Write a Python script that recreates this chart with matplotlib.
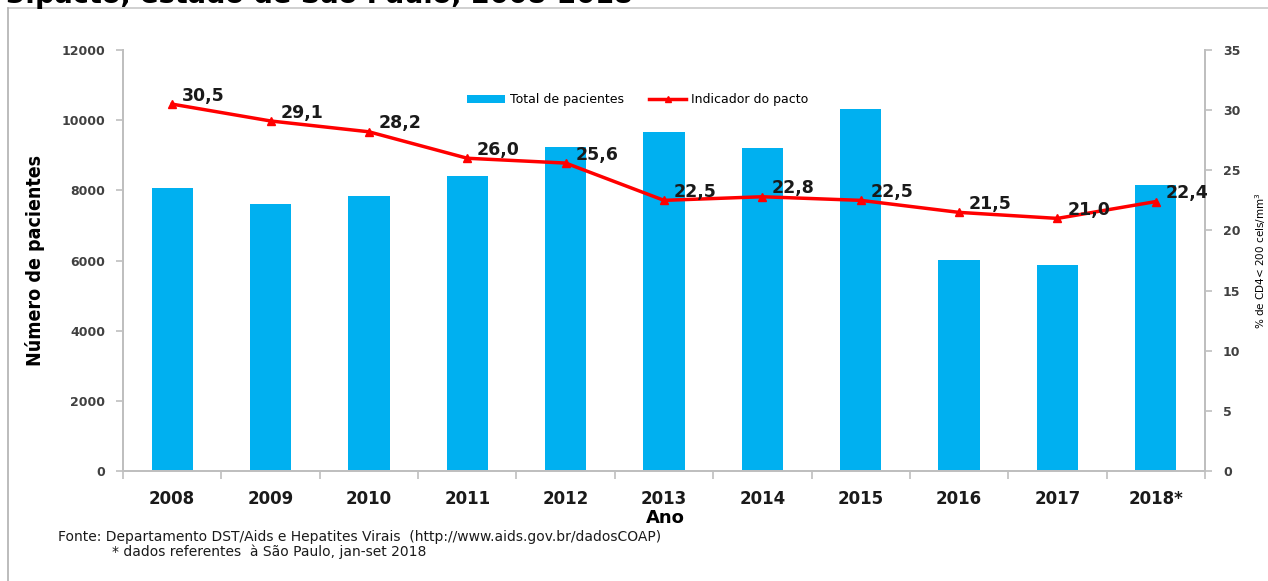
import matplotlib
matplotlib.use("Agg")
import matplotlib.pyplot as plt
from matplotlib.lines import Line2D
from matplotlib.patches import Patch
import numpy as np

# Data
years = ["2008", "2009", "2010", "2011", "2012", "2013", "2014", "2015", "2016", "2017", "2018*"]
total_pacientes = [8070, 7620, 7850, 8400, 9230, 9660, 9200, 10320, 6010, 5870, 8150]
indicador_pacto = [30.5, 29.1, 28.2, 26.0, 25.6, 22.5, 22.8, 22.5, 21.5, 21.0, 22.4]
left_ticks = [0, 2000, 4000, 6000, 8000, 10000, 12000]
right_ticks = [0, 5, 10, 15, 20, 25, 30, 35]

W, H = 1268, 581
fig = plt.figure(figsize=(W / 100, H / 100), dpi=100)
fig.patch.set_facecolor("white")

def fx(px):
    return px / W

def fy(py):
    return 1 - py / H

# Outer frame lines and the heading running off the top edge
fig.add_artist(Line2D([fx(8), 1.0], [fy(8), fy(8)], color="#c8c8c8", lw=1.2))
fig.add_artist(Line2D([fx(8), fx(8)], [fy(8), 0.0], color="#b0b0b0", lw=1.2))
fig.text(fx(6), fy(3), "3.pacto, estado de São Paulo, 2008-2018", fontsize=19.5,
         fontweight="bold", ha="left", va="baseline", color="black")

ax = fig.add_axes([fx(123), fy(471), fx(1205) - fx(123), fy(50) - fy(471)])
ax2 = ax.twinx()

x = np.arange(len(years))
bar_color = "#00b0f0"
line_color = "#ff0000"
axis_gray = "#bfbfbf"
tick_color = "#404040"

ax.bar(x, total_pacientes, width=0.42, color=bar_color, zorder=2)
ax.set_xlim(-0.5, len(years) - 0.5)
ax.set_ylim(0, 12000)
ax.set_yticks(left_ticks)
ax.set_yticklabels([str(t) for t in left_ticks], fontsize=9, fontweight="bold",
                   color=tick_color)
ax.set_xticks(x)
ax.set_xticklabels(years, fontsize=12, fontweight="bold", color="#1a1a1a")
ax.set_xticks(np.arange(len(years) + 1) - 0.5, minor=True)
ax.tick_params(axis="x", which="major", length=0, pad=14)
ax.tick_params(axis="x", which="minor", length=6, color=axis_gray, direction="out", width=1.2)
ax.tick_params(axis="y", length=5, color=axis_gray, direction="out", width=1.2, pad=8)

ax2.plot(x, indicador_pacto, color=line_color, lw=2.5, marker="^", markersize=6,
         zorder=3)
ax2.set_ylim(0, 35)
ax2.set_yticks(right_ticks)
ax2.set_yticklabels([str(t) for t in right_ticks], fontsize=9, fontweight="bold",
                    color=tick_color)
ax2.tick_params(axis="y", length=5, color=axis_gray, direction="out", width=1.2, pad=8)

for xi, v in zip(x, indicador_pacto):
    ax2.annotate(f"{v:.1f}".replace(".", ","), (xi, v), xytext=(7, 6),
                 textcoords="offset points", ha="left", va="center",
                 fontsize=12.5, fontweight="bold", color="#1a1a1a", zorder=4)

for a in (ax, ax2):
    a.spines["top"].set_visible(False)
    for s in ("left", "right", "bottom"):
        a.spines[s].set_color(axis_gray)
        a.spines[s].set_linewidth(1.4)
    a.set_facecolor("none")

ax.set_ylabel("Número de pacientes", fontsize=14, fontweight="bold",
              fontstretch="condensed", family=["DejaVu Sans"])
ax.yaxis.set_label_coords(-(123 - 45) / (1205 - 123), 0.5)
ax2.set_ylabel("% de CD4< 200 cels/mm$^3$", fontsize=7.5)
ax2.yaxis.set_label_coords(1 + (1253 - 1205) / (1205 - 123), 0.5)
ax.set_xlabel("Ano", fontsize=13, fontweight="bold", va="center")
ax.xaxis.set_label_coords((665 - 123) / (1205 - 123), -(518 - 471) / (471 - 50))

handles = [Patch(facecolor=bar_color, edgecolor="none"),
           Line2D([], [], color=line_color, lw=2.5, marker="^", markersize=5)]
fig.legend(handles, ["Total de pacientes", "Indicador do pacto"], loc="center",
           bbox_to_anchor=(fx(638), fy(100)), ncol=2, frameon=False, fontsize=9,
           handlelength=3, handleheight=0.6, columnspacing=2.0, handletextpad=0.4)

fig.text(fx(58), fy(537), "Fonte: Departamento DST/Aids e Hepatites Virais  (http://www.aids.gov.br/dadosCOAP)",
         fontsize=10, ha="left", va="center", color="#1a1a1a")
fig.text(fx(112), fy(552), "* dados referentes  à São Paulo, jan-set 2018",
         fontsize=10, ha="left", va="center", color="#1a1a1a")

fig.savefig("out.png", dpi=100, facecolor="white")
